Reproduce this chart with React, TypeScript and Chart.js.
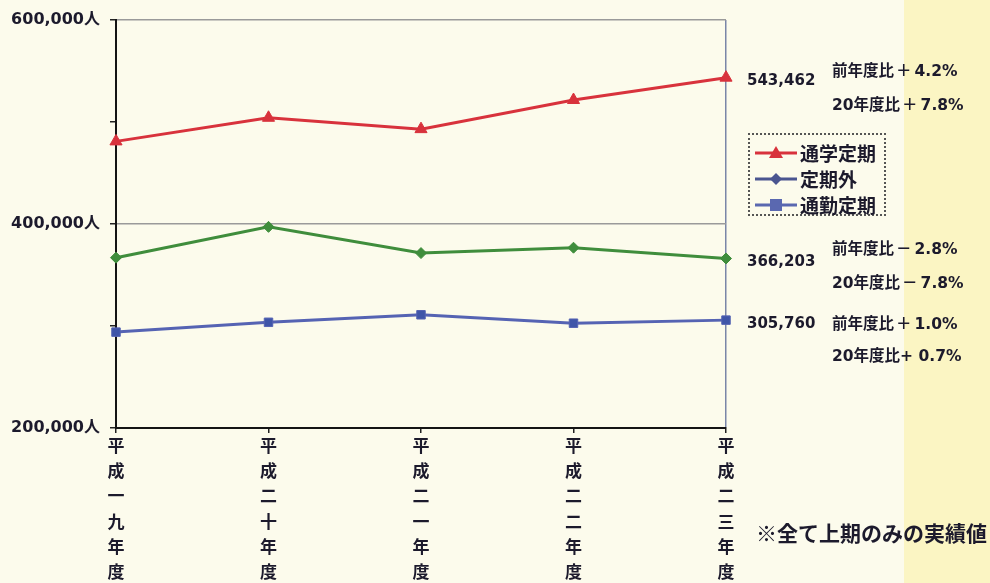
import React, { useEffect, useRef } from "react";
import { Chart, registerables } from "chart.js";

Chart.register(...registerables);

const categories: string[][] = [
  ["平", "成", "一", "九", "年", "度"],
  ["平", "成", "二", "十", "年", "度"],
  ["平", "成", "二", "一", "年", "度"],
  ["平", "成", "二", "二", "年", "度"],
  ["平", "成", "二", "三", "年", "度"],
];

const tsuugaku: number[] = [481000, 504139, 493000, 521556, 543462];
const teikigai: number[] = [367000, 397183, 371500, 376752, 366203];
const tsuukin: number[] = [294000, 303634, 311000, 302733, 305760];

const seriesNames = ["通学定期", "定期外", "通勤定期"];

const yMin = 200000;
const yMax = 600000;
const yStep = 100000;

const endNotes = [
  { value: "543,462", a: "前年度比＋4.2%", b: "20年度比＋7.8%" },
  { value: "366,203", a: "前年度比－2.8%", b: "20年度比－7.8%" },
  { value: "305,760", a: "前年度比＋1.0%", b: "20年度比+ 0.7%" },
];

const footNote = "※全て上期のみの実績値";

const FONT = '"DejaVu Sans", "Noto Sans CJK JP", sans-serif';
const CJK = '"Noto Sans CJK JP", "Noto Sans", sans-serif';
const TEXT = "#1c1a2c";

const fmt = (v: number) => String(v).replace(/\B(?=(\d{3})+(?!\d))/g, ",");

function Mixed({ text }: { text: string }) {
  const parts = text.split(/([＋－])/);
  return (
    <>
      {parts.map((p, i) =>
        p === "＋" || p === "－" ? (
          <span key={i} style={{ fontFamily: CJK, display: "inline-block", margin: "0 3px 0 2px" }}>
            {p}
          </span>
        ) : (
          <span key={i}>{p}</span>
        )
      )}
    </>
  );
}

export default function App() {
  const ref = useRef<HTMLCanvasElement | null>(null);

  useEffect(() => {
    if (!ref.current) return;
    const chart = new Chart(ref.current, {
      type: "line",
      data: {
        labels: categories,
        datasets: [
          {
            label: seriesNames[0],
            data: tsuugaku,
            borderColor: "#d8323c",
            backgroundColor: "#d8323c",
            borderWidth: 3,
            pointStyle: "triangle",
            pointRadius: 7,
            pointBorderWidth: 1,
          },
          {
            label: seriesNames[1],
            data: teikigai,
            borderColor: "#3f8d3c",
            backgroundColor: "#3f8d3c",
            borderWidth: 3,
            pointStyle: "rectRot",
            pointRadius: 5.5,
            pointBorderWidth: 1,
          },
          {
            label: seriesNames[2],
            data: tsuukin,
            borderColor: "#5563b3",
            backgroundColor: "#3f55a8",
            borderWidth: 3,
            pointStyle: "rect",
            pointRadius: 6,
            pointBorderWidth: 1,
          },
        ],
      },
      options: {
        responsive: false,
        animation: false,
        layout: { padding: { top: 20, right: 264, left: 0, bottom: 0 } },
        plugins: { legend: { display: false }, tooltip: { enabled: false } },
        scales: {
          x: {
            offset: false,
            border: { color: "#141414", width: 2 },
            grid: {
              color: (c: any) => (c.index === categories.length - 1 ? "#7a86a8" : "transparent"),
              lineWidth: 1.5,
              tickColor: "#222",
              tickLength: 5,
              drawOnChartArea: true,
            },
            ticks: {
              color: TEXT,
              padding: 0,
              maxRotation: 0,
              autoSkip: false,
              font: { family: CJK, size: 17, weight: "bold", lineHeight: 1.48 },
            },
            afterFit: (s: any) => {
              s.height = 155;
            },
          },
          y: {
            min: yMin,
            max: yMax,
            border: { color: "#141414", width: 2 },
            grid: {
              color: (c: any) =>
                c.tick && (c.tick.value === 400000 || c.tick.value === 600000) ? "#9a9a9a" : "transparent",
              lineWidth: 1.5,
              tickColor: "#222",
              tickLength: 6,
            },
            ticks: {
              stepSize: yStep,
              color: TEXT,
              padding: 10,
              font: { family: FONT, size: 16, weight: "bold" },
              callback: (v: any) => (Number(v) % 200000 === 0 ? fmt(Number(v)) + "人" : ""),
            },
            afterFit: (s: any) => {
              s.width = 116;
            },
          },
        },
      },
    });
    return () => chart.destroy();
  }, []);

  const valueTops = [70, 251, 313];
  const noteTops = [53, 231, 306];
  const legendItems = [
    { name: seriesNames[0], color: "#d8323c", marker: "tri" },
    { name: seriesNames[1], color: "#4a5590", marker: "dia" },
    { name: seriesNames[2], color: "#5a68b0", marker: "sq" },
  ];

  return (
    <div
      style={{
        position: "fixed",
        left: 0,
        top: 0,
        width: 990,
        height: 583,
        overflow: "hidden",
        background: "linear-gradient(to right, #fcfbec 0px, #fcfbec 904px, #fbf5c3 904px)",
        fontFamily: FONT,
        color: TEXT,
      }}
    >
      <canvas ref={ref} width={990} height={583} style={{ position: "absolute", left: 0, top: 0 }} />
      {endNotes.map((n, i) => (
        <React.Fragment key={i}>
          <div
            style={{
              position: "absolute",
              left: 747,
              top: valueTops[i],
              fontSize: 15,
              fontWeight: "bold",
              lineHeight: "20px",
            }}
          >
            {n.value}
          </div>
          <div
            style={{
              position: "absolute",
              left: 832,
              top: noteTops[i],
              fontSize: 15.5,
              fontWeight: "bold",
              lineHeight: "32px",
              whiteSpace: "pre",
            }}
          >
            <Mixed text={n.a} />
            <br />
            <Mixed text={n.b} />
          </div>
        </React.Fragment>
      ))}
      <div
        style={{
          position: "absolute",
          left: 748,
          top: 133,
          width: 138,
          height: 83,
          border: "2px dotted #555",
          boxSizing: "border-box",
          paddingTop: 5,
          fontFamily: CJK,
        }}
      >
        {legendItems.map((it, i) => (
          <div key={i} style={{ display: "flex", alignItems: "center", height: 26 }}>
            <svg width={46} height={20} style={{ marginLeft: 3 }}>
              <line x1={2} y1={10} x2={44} y2={10} stroke={it.color} strokeWidth={3} />
              {it.marker === "tri" && <polygon points="23,3 30,15 16,15" fill={it.color} />}
              {it.marker === "dia" && <polygon points="23,4 29,10 23,16 17,10" fill={it.color} />}
              {it.marker === "sq" && <rect x={17} y={4} width={12} height={12} fill={it.color} />}
            </svg>
            <span style={{ fontSize: 19, fontWeight: "bold", marginLeft: 1, lineHeight: "22px" }}>{it.name}</span>
          </div>
        ))}
      </div>
      <div
        style={{
          position: "absolute",
          left: 756,
          top: 517,
          fontSize: 21,
          fontWeight: "bold",
          lineHeight: "30px",
          whiteSpace: "nowrap",
          fontFamily: CJK,
        }}
      >
        {footNote}
      </div>
    </div>
  );
}
